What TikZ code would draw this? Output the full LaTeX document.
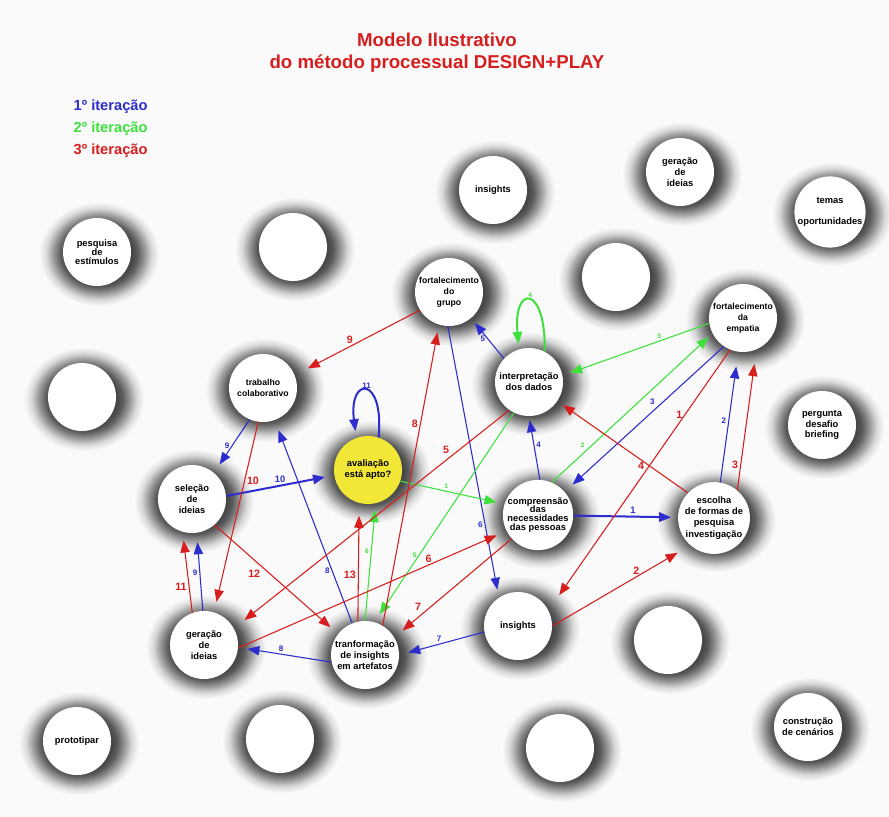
\documentclass[tikz,border=0pt]{standalone}
\usepackage{fontspec}
\setmainfont{Liberation Sans}
\usetikzlibrary{arrows.meta,backgrounds}

\definecolor{azul}{RGB}{45,45,205}
\definecolor{verde}{RGB}{60,225,60}
\definecolor{vermelho}{RGB}{215,30,30}
\definecolor{amarelo}{RGB}{242,230,55}
\definecolor{fundo}{RGB}{250,250,250}

% sombra granulada em volta das bolhas
\pgfdeclareradialshading{halo}{\pgfpoint{0bp}{0bp}}{color(0bp)=(black!72); color(14bp)=(black!72); color(16bp)=(black!64); color(19bp)=(black!40); color(22bp)=(black!15); color(25bp)=(fundo); color(50bp)=(fundo)}

\begin{document}
\begin{tikzpicture}[x=0.75pt, y=-0.75pt,
    bolha/.style = {circle, fill=white, minimum size=51pt, inner sep=0pt, align=center, font=\bfseries\fontsize{7}{8.2}\selectfont},
    seta/.style = {line width=0.8pt, -{Triangle[length=9pt,width=7pt]}, shorten >=6pt},
    it1/.style = {seta, azul},
    it2/.style = {seta, verde},
    it3/.style = {seta, vermelho},
    n1/.style = {text=azul, font=\bfseries\fontsize{6}{6}\selectfont, inner sep=1.5pt},
    n2/.style = {text=verde, font=\bfseries\fontsize{5}{6}\selectfont, inner sep=1.5pt},
    n3/.style = {text=vermelho, font=\bfseries\fontsize{8}{8}\selectfont, inner sep=1.5pt},
    maior/.style = {font=\bfseries\fontsize{7}{7}\selectfont}]
        \useasboundingbox (0,0) rectangle (889,817);

        \node[font=\bfseries\fontsize{14}{16.5}\selectfont, text=vermelho, align=center] (titulo) at (437,53) {Modelo Ilustrativo\\do método processual DESIGN+PLAY};
        \node[anchor=west, font=\bfseries\fontsize{11}{12}\selectfont, text=azul] (leg1) at (69,107) {1º iteração};
        \node[anchor=west, font=\bfseries\fontsize{11}{12}\selectfont, text=verde] (leg2) at (69,129) {2º iteração};
        \node[anchor=west, font=\bfseries\fontsize{11}{12}\selectfont, text=vermelho] (leg3) at (69,151) {3º iteração};

        \node[bolha] (ins1) at (493,190) {insights};
        \node[bolha] (ger1) at (680,172) {geração\\de\\ideias};
        \node[bolha] (temas) at (830,212) {temas\\[8pt]oportunidades};
        \node[bolha, font=\bfseries\fontsize{7}{7}\selectfont] (pesq) at (97,252) {pesquisa\\de\\estímulos};
        \node[bolha] (e1) at (293,247) {};
        \node[bolha] (e2) at (616,277) {};
        \node[bolha, font=\bfseries\fontsize{6.5}{8.2}\selectfont] (grupo) at (449,292) {fortalecimento\\do\\grupo};
        \node[bolha, font=\bfseries\fontsize{6.5}{8.2}\selectfont] (empatia) at (743,318) {fortalecimento\\da\\empatia};
        \node[bolha, font=\bfseries\fontsize{6.5}{8.2}\selectfont] (trab) at (263,388) {trabalho\\colaborativo};
        \node[bolha] (interp) at (529,382) {interpretação\\dos dados};
        \node[bolha] (e3) at (82,397) {};
        \node[bolha, fill=amarelo] (aval) at (368,470) {avaliação\\está apto?};
        \node[bolha] (perg) at (822,425) {pergunta\\desafio\\briefing};
        \node[bolha] (selec) at (192,499) {seleção\\de\\ideias};
        \node[bolha, font=\bfseries\fontsize{7}{6.6}\selectfont] (compr) at (538,515) {compreensão\\das\\necessidades\\das pessoas};
        \node[bolha, font=\bfseries\fontsize{7}{8.4}\selectfont] (escolha) at (714,518) {escolha\\de formas de\\pesquisa\\investigação};
        \node[bolha] (ger2) at (204,645) {geração\\de\\ideias};
        \node[bolha] (transf) at (365,655) {tranformação\\de insights\\em artefatos};
        \node[bolha] (ins2) at (518,626) {insights};
        \node[bolha] (e4) at (668,640) {};
        \node[bolha] (proto) at (77,741) {prototipar};
        \node[bolha] (e5) at (280,739) {};
        \node[bolha] (e6) at (560,748) {};
        \node[bolha] (constr) at (808,727) {construção\\de cenários};

        \begin{scope}[on background layer]
            \fill[fundo] (0,0) rectangle (889,817);
            \foreach \b in {ins1,ger1,temas,pesq,e1,e2,grupo,empatia,trab,interp,e3,aval,perg,selec,compr,escolha,ger2,transf,ins2,e4,proto,e5,e6,constr}
                \shade[shading=halo] ([shift={(2,2)}]\b.center) ellipse (60 and 52);
        \end{scope}

        % 1a iteracao
        \draw[it1, line width=1.5pt, shorten >=5pt] (compr) -- (escolha) node[n1, maior, pos=.57, above] (b1) {1};
        \draw[it1, shorten >=11pt] (escolha.80) -- (empatia.262) node[n1, pos=.47, left] (b2) {2};
        \draw[it1, shorten >=8pt] (empatia.236) -- (compr.41) node[n1, pos=.42, above left] (b3) {3};
        \draw[it1, shorten >=3pt] (compr.87) -- (interp.270) node[n1, pos=.55, right] (b4) {4};
        \draw[it1, shorten >=4.5pt] (interp.137) -- (grupo.310) node[n1, pos=.5, left] (b5) {5};
        \draw[it1] (grupo.268) -- (ins2.124) node[n1, pos=.73, left] (b6) {6};
        \draw[it1, shorten >=7pt] (ins2.190) -- (transf.0) node[n1, pos=.53, above] (b7) {7};
        \draw[it1, shorten >=7pt] (transf.192) -- (ger2.356) node[n1, pos=.54, above] (b8) {8};
        \draw[it1, shorten >=8pt] (transf.112) -- (trab.290) node[n1, pos=.26, left] (b8t) {8};
        \draw[it1, shorten >=7.5pt] (trab.247) -- (selec.50) node[n1, pos=.5, left] (b9) {9};
        \draw[it1, shorten >=7pt] (ger2.92) -- (selec.278) node[n1, pos=.49, left] (b9g) {9};
        \draw[it1, line width=1.5pt, shorten >=7pt] (selec.5) -- (aval.189) node[n1, maior, pos=.5, above] (b10) {10};
        \draw[it1, line width=1.5pt, shorten >=5pt] (aval.72) .. controls +(6,-62) and +(-8,-62) .. (aval.110) node[n1, pos=.5, above] (b11) {11};

        % 2a iteracao
        \draw[it2] (aval.341) -- (compr.162) node[n2, pos=.44, above] (g1) {1};
        \draw[it2, shorten >=4pt] (compr.67) -- (empatia.207) node[n2, pos=.22, above left] (g2) {2};
        \draw[it2] (empatia.189) -- (interp.11) node[n2, pos=.34, above] (g3) {3};
        \draw[it2, line width=1.5pt, shorten >=4pt] (interp.63) .. controls +(2,-66) and +(-6,-66) .. (interp.107) node[n2, pos=.5, above] (g4) {4};
        \draw[it2, shorten >=7pt] (interp.244) -- (transf.74) node[n2, pos=.68, left] (g5) {5};
        \draw[it2, shorten >=5pt] (transf.90) -- (aval.283) node[n2, pos=.59, left] (g6) {6};

        % 3a iteracao
        \draw[it3, shorten >=14pt] (empatia.248) -- (ins2.27) node[n3, pos=.25, left] (r1) {1};
        \draw[it3, shorten >=11pt] (ins2.0) -- (escolha.229) node[n3, pos=.61, above] (r2) {2};
        \draw[it3, shorten >=11pt] (escolha.50) -- (empatia.293) node[n3, pos=.18, left] (r3) {3};
        \draw[it3, shorten >=5pt] (escolha.136) -- (interp.326) node[n3, pos=.36, below] (r4) {4};
        \draw[it3, shorten >=10pt] (interp.235) -- (ger2.29) node[n3, pos=.21, above left] (r5) {5};
        \draw[it3, shorten >=8pt] (ger2.355) -- (compr.207) node[n3, pos=.71, above] (r6) {6};
        \draw[it3, shorten >=8pt] (compr.222) -- (transf.31) node[n3, pos=.75, above left] (r7) {7};
        \draw[it3] (transf.59) -- (grupo.253) node[n3, pos=.67, left] (r8) {8};
        \draw[it3, shorten >=11pt] (grupo.212) -- (trab.22) node[n3, pos=.56, above] (r9) {9};
        \draw[it3, shorten >=8pt] (trab.262) -- (ger2.73) node[n3, pos=.31, right] (r10) {10};
        \draw[it3, shorten >=6.5pt] (ger2.110) -- (selec.254) node[n3, pos=.32, left] (r11) {11};
        \draw[it3, shorten >=7.5pt] (selec.311) -- (transf.142) node[n3, pos=.39, below left] (r12) {12};
        \draw[it3, shorten >=9.5pt] (transf.102) -- (aval.255) node[n3, pos=.39, left] (r13) {13};
    \end{tikzpicture}
\end{document}
